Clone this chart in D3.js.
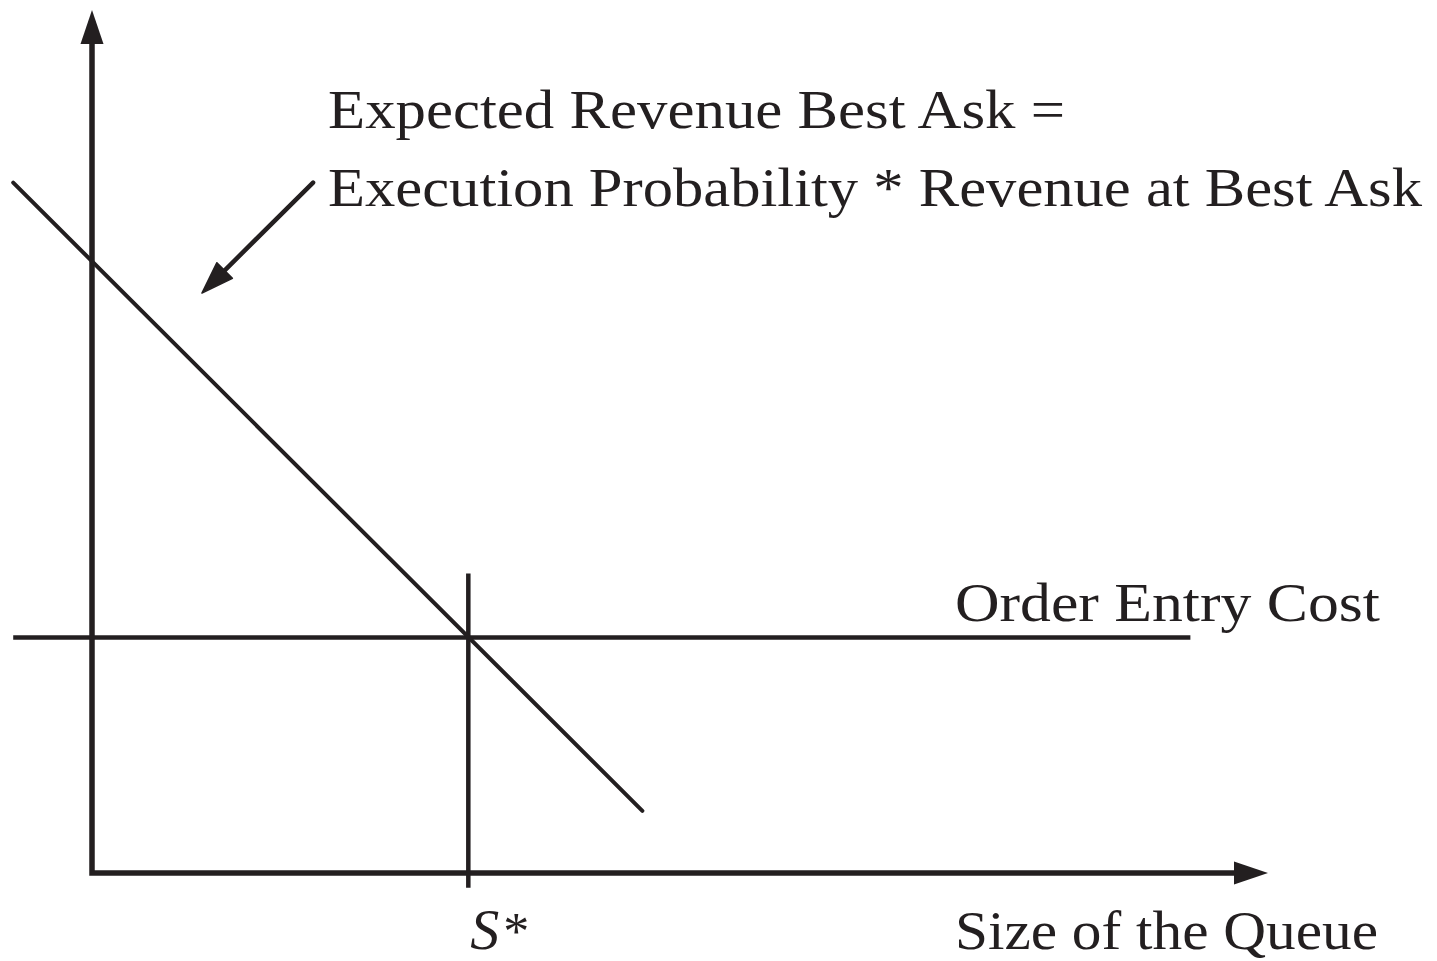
<!DOCTYPE html>
<html>
<head>
<meta charset="utf-8">
<script src="https://cdn.jsdelivr.net/npm/d3@7"></script>
<style>
  body { margin: 0; background: #fff; }
  text { font-family: "Liberation Serif", "DejaVu Serif", serif; fill: #231f20; }
</style>
</head>
<body>
<svg id="canvas"></svg>
<script>
// schematic values (arbitrary units, x = queue size, y = revenue / cost)
const revenueLine = [{ q: -0.67, v: 8.0 }, { q: 4.68, v: 0.72 }];
const costLevel = 2.73;
const costRange = [-0.67, 9.34];
const sStar = 3.2;
const sStarRange = [-0.17, 3.47];
const axisMax = { q: 10, v: 10 };
const pointer = [{ q: 1.88, v: 8.0 }, { q: 0.935, v: 6.72 }];
const labels = {
    top: ["Expected Revenue Best Ask =", "Execution Probability * Revenue at Best Ask"],
    cost: "Order Entry Cost",
    xAxis: "Size of the Queue"
};

const width = 1437,
    height = 961;
const ink = "#231f20";

const svg = d3.select("#canvas")
    .attr("width", width)
    .attr("height", height);

const scaleX = d3.scaleLinear().domain([0, 10]).range([92, 1268]);
const scaleY = d3.scaleLinear().domain([0, 10]).range([873, 10]);

const line = d3.line().x(d => scaleX(d.q)).y(d => scaleY(d.v));

function arrowHead(tip, from, len, wid) {
    const dx = tip[0] - from[0], dy = tip[1] - from[1];
    const n = Math.hypot(dx, dy);
    const ux = dx / n, uy = dy / n;
    const bx = tip[0] - ux * len, by = tip[1] - uy * len;
    const px = -uy * wid / 2, py = ux * wid / 2;
    return `M${tip[0]},${tip[1]}L${bx + px},${by + py}L${bx - px},${by - py}Z`;
}

// axes
const origin = [scaleX(0), scaleY(0)];
const yTip = [scaleX(0), scaleY(axisMax.v)];
const xTip = [scaleX(axisMax.q), scaleY(0)];
svg.append("path")
    .attr("d", `M${yTip[0]},${yTip[1] + 20}L${origin[0]},${origin[1]}L${xTip[0] - 20},${xTip[1]}`)
    .attr("fill", "none").attr("stroke", ink).attr("stroke-width", 5.5).attr("stroke-linejoin", "miter");
svg.append("path").attr("d", arrowHead(yTip, origin, 34, 23)).attr("fill", ink);
svg.append("path").attr("d", arrowHead(xTip, origin, 34, 23)).attr("fill", ink);

// order entry cost
svg.append("path")
    .attr("d", line(costRange.map(q => ({ q, v: costLevel }))))
    .attr("stroke", ink).attr("stroke-width", 4.5).attr("fill", "none");

// S* marker
svg.append("path")
    .attr("d", line(sStarRange.map(v => ({ q: sStar, v }))))
    .attr("stroke", ink).attr("stroke-width", 4.5).attr("fill", "none");

// expected revenue
svg.append("path")
    .attr("d", line(revenueLine))
    .attr("stroke", ink).attr("stroke-width", 4).attr("stroke-linecap", "round").attr("fill", "none");

// pointer arrow
const pFrom = [scaleX(pointer[0].q), scaleY(pointer[0].v)];
const pTip = [scaleX(pointer[1].q), scaleY(pointer[1].v)];
svg.append("path")
    .attr("d", `M${pFrom[0]},${pFrom[1]}L${pTip[0] + 14},${pTip[1] - 14}`)
    .attr("stroke", ink).attr("stroke-width", 4.5).attr("stroke-linecap", "round");
svg.append("path").attr("d", arrowHead(pTip, pFrom, 32, 22)).attr("fill", ink)
    .attr("stroke", ink).attr("stroke-width", 1.5).attr("stroke-linejoin", "round");

// labels
const fs = 55;
svg.append("text").attr("x", 328).attr("y", 128).attr("font-size", fs)
    .attr("textLength", 737).attr("lengthAdjust", "spacingAndGlyphs").text(labels.top[0]);
svg.append("text").attr("x", 328).attr("y", 206).attr("font-size", fs)
    .attr("textLength", 1094).attr("lengthAdjust", "spacingAndGlyphs").text(labels.top[1]);
svg.append("text").attr("x", 955).attr("y", 621).attr("font-size", fs)
    .attr("textLength", 425).attr("lengthAdjust", "spacingAndGlyphs").text(labels.cost);
svg.append("text").attr("x", 955).attr("y", 949).attr("font-size", fs)
    .attr("textLength", 423).attr("lengthAdjust", "spacingAndGlyphs").text(labels.xAxis);

const sLabel = svg.append("text").attr("x", scaleX(sStar) + 2).attr("y", 949).attr("font-size", 58);
sLabel.append("tspan").attr("font-style", "italic").text("S");
sLabel.append("tspan").attr("dx", 4).attr("font-size", 52).text("*");
</script>
</body>
</html>
